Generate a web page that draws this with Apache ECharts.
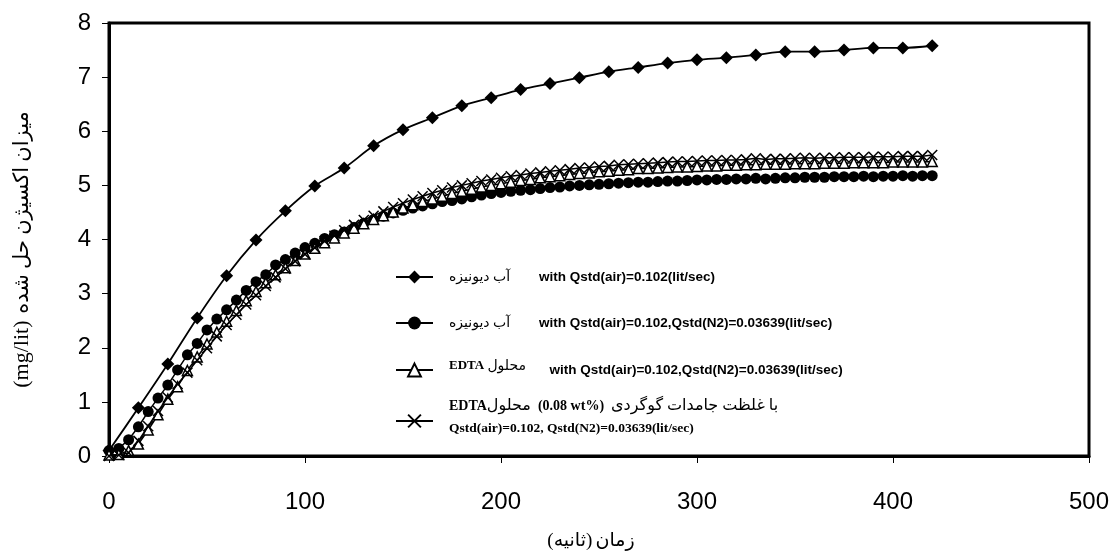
<!DOCTYPE html>
<html>
<head>
<meta charset="utf-8">
<script src="https://cdn.jsdelivr.net/npm/echarts@6/dist/echarts.min.js"></script>
<style>
  html, body { margin: 0; padding: 0; background: #fff; }
  #chart { width: 1116px; height: 556px; }
</style>
</head>
<body>
<div id="chart"></div>
<script>
// Time axis (seconds)
const time15 = [0, 15, 30, 45, 60, 75, 90, 105, 120, 135, 150, 165, 180, 195, 210, 225, 240, 255, 270, 285, 300, 315, 330, 345, 360, 375, 390, 405, 420];
const time5 = [0, 5, 10, 15, 20, 25, 30, 35, 40, 45, 50, 55, 60, 65, 70, 75, 80, 85, 90, 95,
  100, 105, 110, 115, 120, 125, 130, 135, 140, 145, 150, 155, 160, 165, 170, 175, 180, 185, 190, 195,
  200, 205, 210, 215, 220, 225, 230, 235, 240, 245, 250, 255, 260, 265, 270, 275, 280, 285, 290, 295,
  300, 305, 310, 315, 320, 325, 330, 335, 340, 345, 350, 355, 360, 365, 370, 375, 380, 385, 390, 395,
  400, 405, 410, 415, 420];

// Dissolved oxygen (mg/lit)
const deionizedAir = [0.10, 0.89, 1.70, 2.55, 3.33, 3.99, 4.53, 4.99, 5.32, 5.73, 6.03, 6.25, 6.47, 6.62, 6.77,
  6.88, 6.99, 7.10, 7.18, 7.26, 7.32, 7.36, 7.41, 7.47, 7.47, 7.50, 7.54, 7.54, 7.58];

const deionizedAirN2 = [0.10, 0.14, 0.30, 0.54, 0.82, 1.07, 1.31, 1.59, 1.87, 2.08, 2.33, 2.53, 2.70, 2.88, 3.06, 3.22, 3.35, 3.53, 3.63, 3.75,
  3.85, 3.93, 4.02, 4.09, 4.14, 4.22, 4.30, 4.37, 4.43, 4.49, 4.54, 4.58, 4.62, 4.66, 4.70, 4.72, 4.75, 4.79, 4.82, 4.85,
  4.87, 4.89, 4.91, 4.92, 4.94, 4.96, 4.97, 4.99, 5.00, 5.01, 5.02, 5.03, 5.04, 5.05, 5.06, 5.06, 5.07, 5.08, 5.08, 5.09,
  5.10, 5.10, 5.11, 5.11, 5.12, 5.12, 5.13, 5.12, 5.13, 5.14, 5.14, 5.15, 5.15, 5.15, 5.16, 5.16, 5.16, 5.17, 5.16, 5.17,
  5.17, 5.18, 5.17, 5.18, 5.18];

const edtaAirN2 = [0.02, 0.03, 0.10, 0.22, 0.48, 0.76, 1.05, 1.28, 1.58, 1.83, 2.07, 2.29, 2.49, 2.69, 2.87, 3.04, 3.20, 3.35, 3.48, 3.61,
  3.73, 3.84, 3.94, 4.03, 4.12, 4.21, 4.29, 4.37, 4.44, 4.51, 4.58, 4.64, 4.70, 4.75, 4.80, 4.85, 4.89, 4.93, 4.97, 5.00,
  5.03, 5.06, 5.09, 5.11, 5.14, 5.16, 5.18, 5.20, 5.22, 5.23, 5.25, 5.26, 5.28, 5.29, 5.31, 5.31, 5.32, 5.33, 5.34, 5.34,
  5.35, 5.36, 5.36, 5.37, 5.37, 5.38, 5.38, 5.39, 5.39, 5.39, 5.40, 5.40, 5.40, 5.41, 5.41, 5.41, 5.42, 5.42, 5.42, 5.42,
  5.43, 5.43, 5.43, 5.43, 5.44];

const edtaSulfurAirN2 = [0.00, 0.02, 0.06, 0.28, 0.55, 0.83, 1.08, 1.33, 1.54, 1.77, 1.99, 2.21, 2.42, 2.61, 2.80, 2.97, 3.14, 3.30, 3.46, 3.60,
  3.73, 3.85, 3.97, 4.07, 4.17, 4.27, 4.36, 4.44, 4.52, 4.60, 4.67, 4.74, 4.80, 4.86, 4.91, 4.96, 5.00, 5.04, 5.08, 5.11,
  5.14, 5.17, 5.19, 5.22, 5.24, 5.26, 5.28, 5.30, 5.32, 5.33, 5.35, 5.36, 5.38, 5.39, 5.40, 5.41, 5.42, 5.43, 5.44, 5.44,
  5.45, 5.46, 5.46, 5.47, 5.47, 5.48, 5.50, 5.48, 5.49, 5.49, 5.50, 5.51, 5.50, 5.51, 5.51, 5.52, 5.52, 5.52, 5.53, 5.53,
  5.53, 5.54, 5.54, 5.54, 5.56];

const xTicks = [0, 100, 200, 300, 400, 500];
const yTicks = [0, 1, 2, 3, 4, 5, 6, 7, 8];

// Legend texts
const faDeionized = 'آب دیونیزه';
const faSolution = 'محلول';
const faSulfur = 'با غلظت جامدات گوگردی';
const enAir = 'with Qstd(air)=0.102(lit/sec)';
const enAirN2 = 'with Qstd(air)=0.102,Qstd(N2)=0.03639(lit/sec)';
const enAirN2b = 'Qstd(air)=0.102, Qstd(N2)=0.03639(lit/sec)';
const wtText = '(0.08 wt%)';

const faFont = '"Liberation Serif", "DejaVu Sans", serif';
const enFont = '"Liberation Sans", Arial, sans-serif';

const zip = (xs, ys) => xs.map((x, i) => [x, ys[i]]);

const legendRich = {
  fa: { fontFamily: faFont, fontSize: 14, color: '#000', width: 90, align: 'left' },
  fa3: { fontFamily: faFont, fontSize: 14, color: '#000', width: 62, align: 'left', padding: [0, 0, 8, 0] },
  fa4: { fontFamily: faFont, fontSize: 16, color: '#000' },
  edta: { fontFamily: faFont, fontSize: 13, fontWeight: 'bold', color: '#000', padding: [0, 0, 8, 0] },
  edta4: { fontFamily: faFont, fontSize: 14, fontWeight: 'bold', color: '#000' },
  en: { fontFamily: enFont, fontSize: 13.5, fontWeight: 'bold', color: '#000' },
  tb: { fontFamily: faFont, fontSize: 14, fontWeight: 'bold', color: '#000' },
  tb2: { fontFamily: faFont, fontSize: 13.5, fontWeight: 'bold', color: '#000', lineHeight: 30 }
};

const legendTexts = {
  s1: '{fa|' + faDeionized + '}{en|' + enAir + '}',
  s2: '{fa|' + faDeionized + '}{en|' + enAirN2 + '}',
  s3: '{edta|EDTA }{fa3|' + faSolution + '}{en|' + enAirN2 + '}',
  s4: '{edta4|EDTA}{fa4|' + faSolution + '}{tb|  ' + wtText + '  }{fa4|' + faSulfur + '}\n{tb2|' + enAirN2b + '}'
};

function makeLegend(name, top) {
  return {
    data: [name],
    left: 395,
    top: top,
    orient: 'vertical',
    itemWidth: 37,
    itemHeight: 16,
    itemGap: 0,
    padding: 0,
    selectedMode: false,
    formatter: (n) => legendTexts[n],
    textStyle: { rich: legendRich, padding: [0, 0, 0, 11] }
  };
}

const lineStyle = { color: '#000', width: 1.5 };

const option = {
  animation: false,
  backgroundColor: '#fff',
  grid: {
    left: 109, right: 27, top: 23, bottom: 100,
    containLabel: false, outerBoundsMode: 'none',
    show: true, borderColor: '#000', borderWidth: 3, backgroundColor: 'transparent'
  },
  legend: [
    makeLegend('s1', 270),
    makeLegend('s2', 316),
    makeLegend('s3', 359),
    makeLegend('s4', 398)
  ],
  xAxis: {
    type: 'value',
    min: xTicks[0],
    max: xTicks[xTicks.length - 1],
    interval: xTicks[1] - xTicks[0],
    axisLine: { show: true, lineStyle: { color: '#000', width: 3 } },
    axisTick: { show: true, length: 7, lineStyle: { color: '#000', width: 1 } },
    axisLabel: { fontFamily: enFont, fontSize: 24, color: '#000', margin: 34 },
    splitLine: { show: false },
    name: '{fa|(ثانیه)} {fa|زمان}',
    nameLocation: 'middle',
    nameGap: 76,
    nameTextStyle: { padding: [0, 16, 0, 0], rich: { fa: { fontFamily: faFont, fontSize: 19, color: '#000' } } }
  },
  yAxis: {
    type: 'value',
    min: yTicks[0],
    max: yTicks[yTicks.length - 1],
    interval: yTicks[1] - yTicks[0],
    axisLine: { show: true, lineStyle: { color: '#000', width: 3 } },
    axisTick: { show: true, length: 7, lineStyle: { color: '#000', width: 1 } },
    axisLabel: { fontFamily: enFont, fontSize: 24, color: '#000', margin: 18 },
    splitLine: { show: false },
    name: '{en|(mg/lit)}  {fa|میزان اکسیژن حل شده}',
    nameLocation: 'middle',
    nameRotate: 90,
    nameGap: 76,
    nameTextStyle: {
      padding: [0, 20, 0, 0],
      rich: {
        en: { fontFamily: faFont, fontSize: 22, color: '#000' },
        fa: { fontFamily: faFont, fontSize: 21, color: '#000' }
      }
    }
  },
  series: [
    {
      name: 's1', type: 'line', data: zip(time15, deionizedAir), smooth: 0.3,
      symbol: 'diamond', symbolSize: 13,
      itemStyle: { color: '#000' }, lineStyle: { color: '#000', width: 1.8 }, z: 2
    },
    {
      name: 's2', type: 'line', data: zip(time5, deionizedAirN2),
      symbol: 'circle', symbolSize: 11,
      itemStyle: { color: '#000' }, lineStyle: lineStyle, z: 3
    },
    {
      name: 's3', type: 'line', data: zip(time5, edtaAirN2),
      symbol: 'triangle', symbolSize: 10,
      itemStyle: { color: '#fff', borderColor: '#000', borderWidth: 1.5 }, lineStyle: lineStyle, z: 4
    },
    {
      name: 's4', type: 'line', data: zip(time5, edtaSulfurAirN2),
      symbol: 'path://M0,0L10,10M10,0L0,10', symbolSize: 10,
      itemStyle: { color: '#000', borderColor: '#000', borderWidth: 1.5 }, lineStyle: lineStyle, z: 5
    }
  ]
};

const chart = echarts.init(document.getElementById('chart'), null, { renderer: 'canvas' });
chart.setOption(option);
</script>
</body>
</html>
